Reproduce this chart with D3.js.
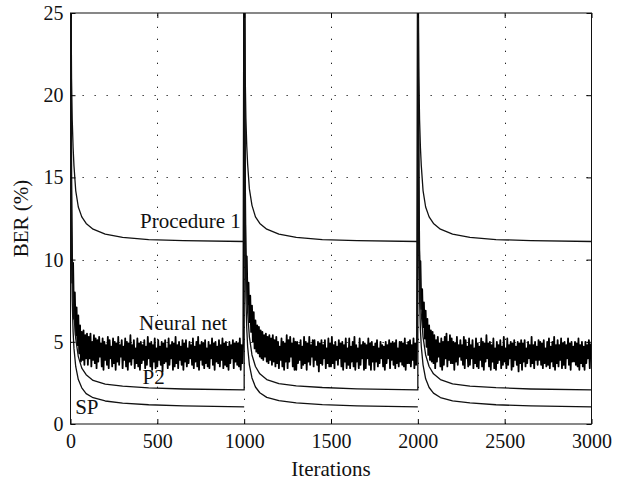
<!DOCTYPE html>
<html>
<head>
<meta charset="utf-8">
<script src="https://cdn.jsdelivr.net/npm/d3@7/dist/d3.min.js"></script>
<style>
  body { margin: 0; background: #fff; }
  svg text { font-family: 'Liberation Serif', 'Times New Roman', serif; fill: #111; }
</style>
</head>
<body>
<script>
// three training runs of 1000 iterations each
var runStarts = [0, 1000, 2000];
// iteration offsets inside a run where the smooth curves were read
var offsets = [0, 3, 6, 10, 15, 20, 30, 45, 65, 90, 130, 200, 300, 450, 650, 1000];

var procedure1 = [
  [45, 26, 21, 18.5, 16.8, 15.7, 14.2, 13.2, 12.6, 12.2, 11.85, 11.55, 11.35, 11.22, 11.15, 11.1],
  [45, 26, 21.2, 18.6, 16.9, 15.8, 14.3, 13.3, 12.6, 12.2, 11.85, 11.55, 11.35, 11.22, 11.15, 11.1],
  [45, 26, 21.1, 18.5, 16.8, 15.7, 14.2, 13.2, 12.6, 12.2, 11.85, 11.55, 11.35, 11.22, 11.15, 11.1]
];
var p2 = [
  [45, 22, 15, 10.5, 8.0, 6.6, 5.2, 4.1, 3.4, 3.0, 2.65, 2.42, 2.3, 2.2, 2.13, 2.07],
  [45, 22, 15.2, 10.7, 8.2, 6.8, 5.3, 4.2, 3.5, 3.05, 2.7, 2.45, 2.32, 2.22, 2.14, 2.07],
  [45, 22, 15.1, 10.6, 8.1, 6.7, 5.3, 4.2, 3.5, 3.05, 2.7, 2.44, 2.31, 2.21, 2.13, 2.07]
];
var sp = [
  [45, 18, 11, 7.5, 5.6, 4.6, 3.5, 2.7, 2.2, 1.85, 1.6, 1.4, 1.27, 1.17, 1.1, 1.04],
  [45, 18, 11.2, 7.7, 5.8, 4.7, 3.6, 2.8, 2.25, 1.9, 1.62, 1.42, 1.29, 1.18, 1.1, 1.04],
  [45, 18, 11.1, 7.6, 5.7, 4.7, 3.6, 2.75, 2.22, 1.88, 1.61, 1.41, 1.28, 1.17, 1.1, 1.04]
];

// neural net BER, one value every 5 iterations of each run
var nnStep = 5;
var neuralNet = [
  [30, 12.0, 8.6, 9.8, 6.4, 8.0, 5.4, 7.1, 4.8, 6.6,
   4.3, 6.0, 3.8, 5.6, 3.9, 5.7, 3.6, 5.4, 4.0, 5.5,
   3.6, 5.3, 4.0, 5.5, 3.5, 5.0, 3.9, 5.4, 3.7, 5.2,
   3.4, 5.1, 3.8, 5.3, 4.1, 4.9, 3.5, 5.2, 3.3, 5.0,
   3.9, 4.8, 3.6, 5.3, 3.4, 5.1, 4.0, 4.7, 3.5, 5.2,
   3.7, 5.0, 3.3, 4.9, 3.8, 5.3, 3.6, 4.8, 4.1, 5.1,
   3.4, 4.7, 3.9, 5.2, 3.5, 5.0, 3.3, 4.9, 3.8, 5.4,
   3.6, 4.8, 4.0, 5.1, 3.4, 4.6, 3.7, 5.2, 3.5, 4.9,
   3.3, 5.0, 3.7, 4.8, 3.9, 5.1, 3.4, 4.7, 3.6, 5.3,
   4.0, 4.9, 3.5, 5.0, 3.3, 4.8, 3.8, 5.2, 3.4, 4.6,
   3.5, 5.1, 3.9, 4.7, 3.6, 5.0, 3.2, 4.9, 3.7, 5.1,
   3.8, 4.6, 3.4, 5.2, 3.6, 4.8, 4.0, 5.0, 3.3, 4.9,
   3.5, 5.3, 3.7, 4.8, 3.4, 5.0, 3.9, 4.7, 3.6, 5.1,
   3.3, 4.9, 3.8, 5.1, 3.5, 4.6, 3.7, 5.0, 4.0, 4.8,
   3.6, 5.2, 3.4, 4.7, 3.8, 5.0, 3.5, 5.3, 3.3, 4.8,
   3.9, 5.0, 3.6, 4.9, 3.4, 5.1, 3.7, 4.6, 3.5, 5.0,
   3.4, 4.8, 4.0, 5.2, 3.6, 4.9, 3.3, 5.0, 3.8, 4.7,
   3.7, 5.1, 3.5, 4.8, 3.9, 5.2, 3.4, 4.9, 3.6, 5.0,
   3.5, 4.7, 3.3, 5.0, 3.7, 4.8, 4.0, 5.1, 3.4, 4.9,
   3.8, 5.0, 3.6, 4.9, 3.5, 5.2, 3.3, 4.8, 3.7, 5.0],
  [30, 12.5, 9.2, 10.2, 7.3, 8.6, 6.2, 7.8, 5.6, 7.2,
   5.0, 6.8, 4.6, 6.3, 4.4, 6.0, 4.3, 5.9, 4.1, 5.7,
   4.0, 5.6, 3.9, 5.4, 4.1, 5.5, 3.8, 5.3, 3.7, 5.4,
   3.9, 5.2, 3.6, 5.4, 3.8, 5.1, 3.5, 5.3, 3.7, 5.0,
   3.4, 4.7, 3.9, 5.2, 3.5, 5.0, 3.3, 4.9, 3.8, 5.4,
   3.4, 5.1, 3.8, 5.3, 4.1, 4.9, 3.5, 5.2, 3.3, 5.0,
   3.3, 5.0, 3.7, 4.8, 3.9, 5.1, 3.4, 4.7, 3.6, 5.3,
   3.7, 5.0, 3.3, 4.9, 3.8, 5.3, 3.6, 4.8, 4.1, 5.1,
   3.5, 5.1, 3.9, 4.7, 3.6, 5.0, 3.2, 4.9, 3.7, 5.1,
   3.6, 4.8, 4.0, 5.1, 3.4, 4.6, 3.7, 5.2, 3.5, 4.9,
   3.5, 5.3, 3.7, 4.8, 3.4, 5.0, 3.9, 4.7, 3.6, 5.1,
   4.0, 4.9, 3.5, 5.0, 3.3, 4.8, 3.8, 5.2, 3.4, 4.6,
   3.6, 5.2, 3.4, 4.7, 3.8, 5.0, 3.5, 5.3, 3.3, 4.8,
   3.8, 4.6, 3.4, 5.2, 3.6, 4.8, 4.0, 5.0, 3.3, 4.9,
   3.4, 4.8, 4.0, 5.2, 3.6, 4.9, 3.3, 5.0, 3.8, 4.7,
   3.3, 4.9, 3.8, 5.1, 3.5, 4.6, 3.7, 5.0, 4.0, 4.8,
   3.5, 4.7, 3.3, 5.0, 3.7, 4.8, 4.0, 5.1, 3.4, 4.9,
   3.9, 5.0, 3.6, 4.9, 3.4, 5.1, 3.7, 4.6, 3.5, 5.0,
   3.8, 5.0, 3.6, 4.9, 3.5, 5.2, 3.3, 4.8, 3.7, 5.0,
   3.7, 5.1, 3.5, 4.8, 3.9, 5.2, 3.4, 4.9, 3.6, 5.0],
  [30, 12.2, 8.9, 9.9, 7.0, 8.2, 5.9, 7.4, 5.2, 6.9,
   4.7, 6.4, 4.2, 6.0, 3.9, 5.7, 3.8, 5.6, 3.7, 5.4,
   3.4, 5.1, 3.8, 5.3, 4.1, 4.9, 3.5, 5.2, 3.3, 5.0,
   3.6, 5.3, 4.0, 5.5, 3.5, 5.0, 3.9, 5.4, 3.7, 5.2,
   3.7, 5.0, 3.3, 4.9, 3.8, 5.3, 3.6, 4.8, 4.1, 5.1,
   3.9, 4.8, 3.6, 5.3, 3.4, 5.1, 4.0, 4.7, 3.5, 5.2,
   3.6, 4.8, 4.0, 5.1, 3.4, 4.6, 3.7, 5.2, 3.5, 4.9,
   3.4, 4.7, 3.9, 5.2, 3.5, 5.0, 3.3, 4.9, 3.8, 5.4,
   4.0, 4.9, 3.5, 5.0, 3.3, 4.8, 3.8, 5.2, 3.4, 4.6,
   3.3, 5.0, 3.7, 4.8, 3.9, 5.1, 3.4, 4.7, 3.6, 5.3,
   3.8, 4.6, 3.4, 5.2, 3.6, 4.8, 4.0, 5.0, 3.3, 4.9,
   3.5, 5.1, 3.9, 4.7, 3.6, 5.0, 3.2, 4.9, 3.7, 5.1,
   3.3, 4.9, 3.8, 5.1, 3.5, 4.6, 3.7, 5.0, 4.0, 4.8,
   3.5, 5.3, 3.7, 4.8, 3.4, 5.0, 3.9, 4.7, 3.6, 5.1,
   3.9, 5.0, 3.6, 4.9, 3.4, 5.1, 3.7, 4.6, 3.5, 5.0,
   3.6, 5.2, 3.4, 4.7, 3.8, 5.0, 3.5, 5.3, 3.3, 4.8,
   3.7, 5.1, 3.5, 4.8, 3.9, 5.2, 3.4, 4.9, 3.6, 5.0,
   3.4, 4.8, 4.0, 5.2, 3.6, 4.9, 3.3, 5.0, 3.8, 4.7,
   3.8, 5.0, 3.6, 4.9, 3.5, 5.2, 3.3, 4.8, 3.7, 5.0,
   3.5, 4.7, 3.3, 5.0, 3.7, 4.8, 4.0, 5.1, 3.4, 4.9]
];

var xTicks = [0, 500, 1000, 1500, 2000, 2500, 3000];
var yTicks = [0, 5, 10, 15, 20, 25];

// curve labels: text, iteration, BER at baseline
var labels = [
  { text: 'Procedure 1', x: 400, y: 11.9 },
  { text: 'Neural net', x: 395, y: 5.7 },
  { text: 'P2', x: 415, y: 2.45 },
  { text: 'SP', x: 27, y: 0.6 }
];

var width = 631, height = 480;
var plotLeft = 70.5, plotRight = 591.5, plotTop = 13, plotBottom = 424;

var svg = d3.select('body').append('svg')
  .attr('width', width)
  .attr('height', height);

var x = d3.scaleLinear().domain([0, 3000]).range([plotLeft, plotRight]);
var y = d3.scaleLinear().domain([0, 25]).range([plotBottom, plotTop]);

svg.append('clipPath').attr('id', 'plot')
  .append('rect')
  .attr('x', plotLeft).attr('y', plotTop)
  .attr('width', plotRight - plotLeft).attr('height', plotBottom - plotTop);

// dotted grid
var grid = svg.append('g')
  .attr('stroke', '#222')
  .attr('stroke-width', 1)
  .attr('stroke-dasharray', '1.3,10.7');
grid.selectAll('.gx')
  .data(xTicks.slice(1, -1))
  .enter().append('line')
  .attr('x1', function(d) { return Math.round(x(d)) + 0.5; })
  .attr('x2', function(d) { return Math.round(x(d)) + 0.5; })
  .attr('y1', plotBottom).attr('y2', plotTop);
grid.selectAll('.gy')
  .data(yTicks.slice(1, -1))
  .enter().append('line')
  .attr('y1', function(d) { return Math.round(y(d)) + 0.5; })
  .attr('y2', function(d) { return Math.round(y(d)) + 0.5; })
  .attr('x1', plotLeft).attr('x2', plotRight);

// join the runs into one line, except SP which restarts each run
function joined(table) {
  var pts = [];
  for (var r = 0; r < runStarts.length; r++) {
    for (var i = 0; i < offsets.length; i++) {
      pts.push([runStarts[r] + offsets[i], table[r][i]]);
    }
  }
  return pts;
}

var nnPts = [];
for (var r = 0; r < runStarts.length; r++) {
  for (var i = 0; i < neuralNet[r].length; i++) {
    nnPts.push([runStarts[r] + i * nnStep, neuralNet[r][i]]);
  }
}

var line = d3.line()
  .x(function(d) { return x(d[0]); })
  .y(function(d) { return y(d[1]); });

var curves = svg.append('g')
  .attr('clip-path', 'url(#plot)')
  .attr('fill', 'none')
  .attr('stroke', '#111')
  .attr('stroke-linejoin', 'round');

// the noisy net trace is drawn thick so it reads as a solid band
curves.append('path').attr('d', line(nnPts)).attr('stroke', '#000').attr('stroke-width', 1.8);
curves.append('path').attr('d', line(joined(procedure1))).attr('stroke-width', 1.3);
curves.append('path').attr('d', line(joined(p2))).attr('stroke-width', 1.3);
for (var r = 0; r < runStarts.length; r++) {
  var seg = offsets.map(function(o, i) { return [runStarts[r] + o, sp[r][i]]; });
  curves.append('path').attr('d', line(seg)).attr('stroke-width', 1.3);
}

// axes with inward ticks on all four sides
var fontSize = '20px';
svg.append('g')
  .attr('transform', 'translate(0,' + plotBottom + ')')
  .call(d3.axisBottom(x).tickValues(xTicks).tickSize(-5).tickPadding(10).tickFormat(d3.format('d')))
  .call(function(g) {
    g.select('.domain').remove();
    g.selectAll('text').style('font-size', fontSize);
  });
svg.append('g')
  .attr('transform', 'translate(0,' + plotTop + ')')
  .call(d3.axisTop(x).tickValues(xTicks).tickSize(-5).tickFormat(''))
  .call(function(g) { g.select('.domain').remove(); });
svg.append('g')
  .attr('transform', 'translate(' + plotLeft + ',0)')
  .call(d3.axisLeft(y).tickValues(yTicks).tickSize(-5).tickPadding(7))
  .call(function(g) {
    g.select('.domain').remove();
    g.selectAll('text').style('font-size', fontSize);
  });
svg.append('g')
  .attr('transform', 'translate(' + plotRight + ',0)')
  .call(d3.axisRight(y).tickValues(yTicks).tickSize(-5).tickFormat(''))
  .call(function(g) { g.select('.domain').remove(); });

svg.append('rect')
  .attr('x', plotLeft).attr('y', plotTop)
  .attr('width', plotRight - plotLeft).attr('height', plotBottom - plotTop)
  .attr('fill', 'none')
  .attr('stroke', '#111')
  .attr('stroke-width', 1);

// curve labels
svg.selectAll('.lbl')
  .data(labels)
  .enter().append('text')
  .attr('x', function(d) { return x(d.x); })
  .attr('y', function(d) { return y(d.y); })
  .style('font-size', '21px')
  .text(function(d) { return d.text; });

svg.append('text')
  .attr('x', (plotLeft + plotRight) / 2)
  .attr('y', 476)
  .attr('text-anchor', 'middle')
  .style('font-size', '21px')
  .text('Iterations');

svg.append('text')
  .attr('transform', 'translate(28,' + (plotTop + plotBottom) / 2 + ') rotate(-90)')
  .attr('text-anchor', 'middle')
  .style('font-size', '21px')
  .text('BER (%)');
</script>
</body>
</html>
